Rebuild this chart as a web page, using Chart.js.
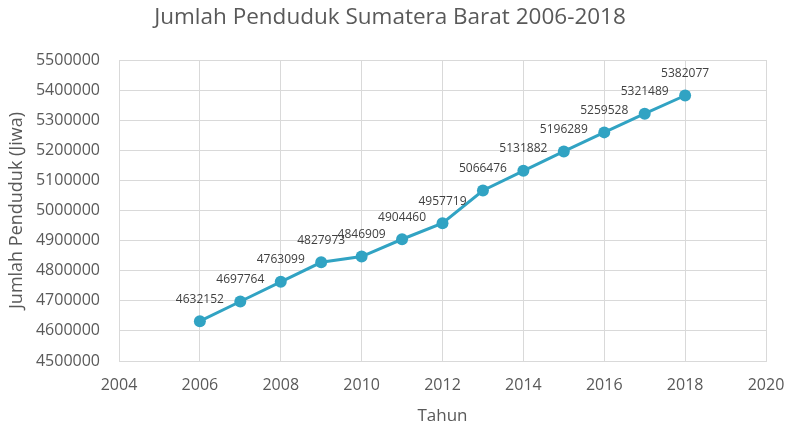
<!DOCTYPE html>
<html>
<head>
<meta charset="utf-8">
<script src="https://cdn.jsdelivr.net/npm/chart.js@4/dist/chart.umd.min.js"></script>
<style>
html,body{margin:0;padding:0;background:#fff;}
#c{display:block;}
</style>
</head>
<body>
<canvas id="c" width="790" height="429"></canvas>
<script>
const chartTitle = "Jumlah Penduduk Sumatera Barat 2006-2018";
const xAxisTitle = "Tahun";
const yAxisTitle = "Jumlah Penduduk (Jiwa)";
const years = [2006, 2007, 2008, 2009, 2010, 2011, 2012, 2013, 2014, 2015, 2016, 2017, 2018];
const population = [4632152, 4697764, 4763099, 4827973, 4846909, 4904460, 4957719, 5066476, 5131882, 5196289, 5259528, 5321489, 5382077];
const xMin = 2004, xMax = 2020, xStep = 2;
const yMin = 4500000, yMax = 5500000, yStep = 100000;

const FONT = "'Open Sans', 'Liberation Sans', sans-serif";
const TXT = "#595959";
const GRID = "#d9d9d9";
const LINE = "#31a3c3";

const titlePlugin = {
  id: 'topTitle',
  afterDraw(chart) {
    const ctx = chart.ctx;
    ctx.save();
    ctx.font = "22.5px " + FONT;
    ctx.fillStyle = TXT;
    ctx.textAlign = "center";
    ctx.textBaseline = "middle";
    ctx.fillText(chartTitle, 390, 18);
    ctx.restore();
  }
};

const labelPlugin = {
  id: 'pointLabels',
  afterDatasetsDraw(chart) {
    const ctx = chart.ctx;
    const meta = chart.getDatasetMeta(0);
    ctx.save();
    ctx.font = "12px " + FONT;
    ctx.fillStyle = "#404040";
    ctx.textAlign = "center";
    ctx.textBaseline = "middle";
    meta.data.forEach((pt, i) => {
      ctx.fillText(String(population[i]), pt.x, pt.y - 22);
    });
    ctx.restore();
  }
};

new Chart(document.getElementById('c'), {
  type: 'line',
  data: {
    datasets: [{
      data: years.map((y, i) => ({x: y, y: population[i]})),
      borderColor: LINE,
      backgroundColor: LINE,
      borderWidth: 3,
      pointRadius: 6,
      pointHoverRadius: 6,
      pointBackgroundColor: LINE,
      pointBorderColor: LINE,
      pointBorderWidth: 0,
      tension: 0,
      fill: false
    }]
  },
  options: {
    responsive: false,
    animation: false,
    devicePixelRatio: 1,
    layout: {padding: {top: 60, right: 24, bottom: 0, left: 0}},
    plugins: {legend: {display: false}, tooltip: {enabled: false}, title: {display: false}},
    scales: {
      x: {
        type: 'linear',
        min: xMin, max: xMax,
        ticks: {stepSize: xStep, color: TXT, font: {size: 16, family: FONT}, padding: 15,
                callback: v => String(v), maxRotation: 0},
        grid: {color: GRID, drawTicks: false, lineWidth: 1},
        border: {color: GRID},
        title: {display: true, text: xAxisTitle, color: TXT, font: {size: 17, family: FONT}, padding: {top: 0, bottom: 3}},
        afterFit(s) { s.height = 68; s.paddingRight = 0; s.paddingLeft = 0; }
      },
      y: {
        min: yMin, max: yMax,
        ticks: {stepSize: yStep, color: TXT, font: {size: 16, family: FONT}, padding: 19,
                callback: v => String(v)},
        grid: {color: GRID, drawTicks: false, lineWidth: 1},
        border: {color: GRID},
        title: {display: true, text: yAxisTitle, color: TXT, font: {size: 18, family: FONT}, padding: {top: 6, bottom: 0}},
        afterFit(s) { s.width = 119; s.paddingTop = 0; s.paddingBottom = 0; }
      }
    }
  },
  plugins: [titlePlugin, labelPlugin]
});
</script>
</body>
</html>
